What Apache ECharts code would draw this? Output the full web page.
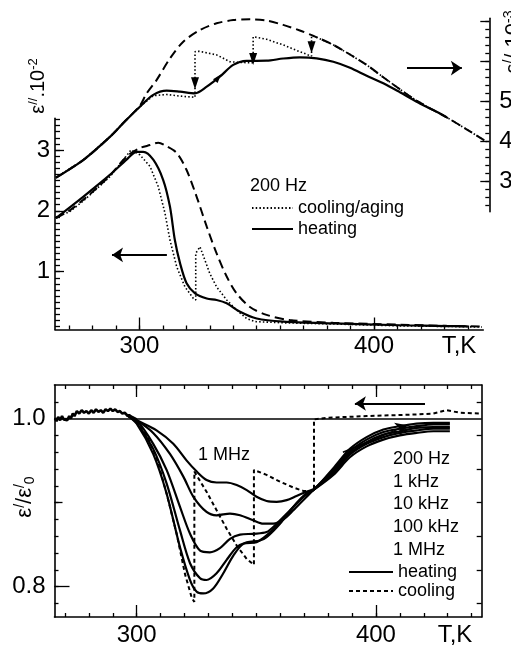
<!DOCTYPE html>
<html><head><meta charset="utf-8">
<script src="https://cdn.jsdelivr.net/npm/echarts@6/dist/echarts.min.js"></script>
<style>html,body{margin:0;padding:0;background:#fff;overflow:hidden}#c{width:511px;height:647px}</style>
</head><body><div id="c"></div>
<script>
// ---------- DATA ----------
// Top panel, epsilon' (right axis, x 10^-3), [T(K), value]
const epsP_heating = [[264.4,3.10],[276,3.54],[287.4,4.12],[294,4.52],[300.2,4.875],[305.9,5.17],[311.6,5.275],[317.3,5.25],[323.7,5.21],[328.7,5.375],[334.3,5.625],[340,5.92],[345.7,6.02],[354.2,6.025],[361.3,6.08],[368.4,6.11],[375.6,6.085],[382.7,6.0],[389.8,5.85],[396.9,5.65],[404.0,5.46],[411.1,5.235],[418.2,5.0],[425.3,4.79],[431.0,4.61]];
const epsP_cooling = [[264.4,3.10],[276,3.54],[287.4,4.12],[294,4.52],[300.2,4.875],[305.9,5.15],[311.6,5.18],[317.3,5.14],[323.7,5.11],[323.7,6.25],[325.5,6.26],[332.9,6.17],[338.6,6.0],[343,5.98],[348.5,5.975],[348.5,6.625],[354.2,6.56],[361.3,6.42],[368.4,6.25],[372.0,6.17],[373.4,6.14],[373.4,6.65],[375.6,6.61],[382.7,6.42],[389.8,6.18],[396.9,5.92],[404.0,5.61],[411.1,5.31],[418.2,5.025],[425.3,4.79],[431.0,4.61],[439.5,4.31],[448.0,4.0]];
const epsP_ref = [[264.4,3.10],[276,3.54],[287.4,4.12],[294,4.52],[300.2,4.9],[303,5.2],[307.3,5.54],[313,6.08],[318.7,6.5],[325.8,6.79],[332.9,6.96],[340,7.04],[347.1,7.06],[354.2,7.03],[361.3,6.92],[368.4,6.78],[375.6,6.61],[382.7,6.42],[389.8,6.18],[396.9,5.92],[404.0,5.61],[411.1,5.31],[418.2,5.025],[425.3,4.79],[431.0,4.61],[439.5,4.31],[448.0,4.0]];
// Top panel, epsilon'' (left axis, x 10^-2)
const epsPP_heating = [[264.4,1.88],[276,2.23],[287.4,2.59],[294.5,2.84],[298.8,2.97],[301.6,2.97],[305.9,2.84],[310.1,2.51],[313,2.07],[315.1,1.52],[317.3,1.14],[320.1,0.81],[323.7,0.645],[328.7,0.56],[332.9,0.535],[337.2,0.48],[342.9,0.34],[350,0.23],[361.3,0.18],[382.6,0.15],[411.1,0.12],[431,0.107],[440,0.10]];
const epsPP_cooling = [[264.4,1.90],[270,1.98],[276,2.16],[282,2.37],[287.4,2.56],[292,2.78],[296.4,3.0],[300.2,2.92],[304.5,2.73],[308,2.40],[310.9,1.96],[313,1.52],[315.9,1.08],[319.4,0.75],[323,0.56],[324,0.535],[324,1.30],[325.8,1.41],[327.9,1.19],[330,0.97],[332.9,0.75],[337.2,0.535],[341.4,0.37],[345.7,0.23],[349.2,0.18],[361.3,0.16],[382.6,0.14],[411.1,0.11],[431,0.10],[446,0.09]];
const epsPP_ref = [[264.4,1.88],[270,2.0],[276,2.18],[282,2.38],[287.4,2.58],[294.5,2.89],[300.2,3.03],[304.5,3.08],[308,3.12],[311.6,3.06],[315.9,2.95],[320.1,2.67],[324.4,2.23],[328.7,1.74],[332.9,1.30],[337.2,0.92],[341.4,0.645],[347.1,0.42],[354.2,0.29],[364.2,0.205],[382.6,0.16],[411.1,0.13],[431,0.11],[446,0.10]];
// Bottom panel, epsilon'/epsilon'0
const rel_noise = [[265.8,1.000],[266.5,0.997],[267.2,1.002],[268,0.998],[268.8,1.003],[269.5,0.999],[270.3,1.001],[271,0.998],[271.8,1.003],[272.5,1.000],[273.3,1.006],[274,1.003],[275,1.009],[276,1.006],[277,1.010],[278,1.007],[279,1.009],[280,1.006],[281,1.010],[282,1.007],[283,1.011],[284,1.008],[285,1.010],[286,1.007],[287,1.011],[288,1.009],[289,1.012],[290,1.009],[291,1.011],[292,1.008],[293,1.009],[294,1.006],[295,1.007],[296,1.004],[297,1.004],[298,1.002],[300,0.999]];
const rel_1MHz = [[296,1.004],[300,0.998],[308.3,0.986],[315.3,0.970],[320.9,0.950],[325.1,0.937],[329.2,0.927],[333.4,0.924],[337.6,0.924],[341.8,0.921],[346.0,0.915],[350.1,0.907],[354.3,0.902],[358.5,0.901],[362.7,0.903],[366.8,0.908],[371.0,0.913],[374.5,0.917],[382.2,0.941],[389.1,0.964],[396.1,0.978],[403.1,0.987],[410.0,0.991],[417.0,0.994],[424.0,0.995],[430.9,0.995]];
const rel_100kHz = [[296,1.004],[300,0.998],[306.9,0.983],[313.9,0.958],[319.5,0.931],[323.7,0.907],[329.2,0.889],[333.4,0.885],[339.0,0.887],[343.2,0.885],[348.7,0.879],[352.9,0.875],[357.1,0.875],[361.3,0.880],[365.5,0.891],[369.6,0.903],[373.8,0.915],[382.2,0.939],[389.1,0.961],[396.1,0.975],[403.1,0.984],[410.0,0.988],[417.0,0.991],[424.0,0.993],[430.9,0.993]];
const rel_10kHz = [[296,1.004],[300,0.998],[306.9,0.970],[312.5,0.939],[318.1,0.895],[322.3,0.863],[326.5,0.843],[330.6,0.841],[334.8,0.846],[339.0,0.857],[343.2,0.862],[348.7,0.863],[354.3,0.865],[358.5,0.875],[364.1,0.891],[369.6,0.907],[373.8,0.915],[382.2,0.937],[389.1,0.959],[396.1,0.972],[403.1,0.981],[410.0,0.985],[417.0,0.989],[424.0,0.990],[430.9,0.990]];
const rel_1kHz = [[296,1.004],[300,0.995],[306.9,0.964],[312.5,0.923],[318.1,0.867],[322.3,0.828],[326.5,0.810],[329.2,0.808],[333.4,0.816],[337.6,0.832],[341.8,0.847],[346.0,0.853],[351.5,0.855],[354.3,0.859],[359.9,0.875],[365.5,0.895],[371.0,0.911],[373.8,0.915],[382.2,0.935],[389.1,0.957],[396.1,0.970],[403.1,0.978],[410.0,0.983],[417.0,0.986],[424.0,0.988],[430.9,0.988]];
const rel_200Hz = [[296,1.004],[300,0.994],[306.9,0.958],[312.5,0.911],[318.1,0.847],[322.3,0.808],[325.1,0.794],[327.8,0.792],[332.0,0.798],[336.2,0.816],[340.4,0.837],[344.6,0.851],[350.1,0.853],[354.3,0.861],[359.9,0.876],[365.5,0.895],[371.0,0.911],[373.8,0.915],[382.2,0.933],[389.1,0.954],[396.1,0.967],[403.1,0.975],[410.0,0.980],[417.0,0.983],[424.0,0.985],[430.9,0.985]];
const rel_cooling = [[300,0.998],[304.2,0.980],[308.3,0.954],[312.5,0.911],[316.7,0.863],[320.2,0.815],[323.0,0.787],[324.1,0.782],[324.1,0.937],[329.2,0.913],[333.4,0.891],[337.6,0.869],[341.8,0.849],[346.0,0.833],[349.0,0.826],[349.0,0.939],[354.3,0.933],[359.9,0.925],[365.5,0.918],[369.6,0.914],[374.1,0.914],[374.1,0.999],[379.4,1.001],[396.1,1.003],[417.0,1.005],[424.0,1.006],[429.5,1.010],[435.1,1.007],[444.2,1.006]];
// Ticks / labels
const tickT = [270,280,290,300,310,320,330,340,350,360,370,380,390,400,410,420,430,440];
const majorT = [300,400];
const tickEps2 = [0.1,0.2,0.3,0.4,0.5,0.6,0.7,0.8,0.9,1.0,1.1,1.2,1.3,1.4,1.5,1.6,1.7,1.8,1.9,2.0,2.1,2.2,2.3,2.4,2.5,2.6,2.7,2.8,2.9,3.0,3.1,3.2,3.3,3.4,3.5];
const majorEps2 = [1,2,3];
const tickEps1 = [2.4,2.6,2.8,3.0,3.2,3.4,3.6,3.8,4.0,4.2,4.4,4.6,4.8,5.0,5.2,5.4,5.6,5.8,6.0,6.2,6.4,6.6,6.8,7.0];
const majorEps1 = [3,4,5,6,7];
const labelEps1 = [3,4,5];
const tickRel = [0.78,0.80,0.82,0.84,0.86,0.88,0.90,0.92,0.94,0.96,0.98,1.00,1.02];
const majorRel = [0.8,1.0];
const midRel = [0.9];
const tickRelRight = [0.78,0.82,0.86,0.90,0.94,0.98,1.02];
const freqLabels = ['200 Hz','1 kHz','10 kHz','100 kHz','1 MHz'];

// ---------- CHART ----------
const fam = 'Liberation Sans, Arial, Helvetica, sans-serif';
const chart = echarts.init(document.getElementById('c'), null, {renderer:'canvas'});

function ax(o){
  return {
    type:'value', gridIndex:o.g, position:o.pos, min:o.min, max:o.max, show: o.show!==false,
    axisLine:{show:!!o.line, onZero:false, lineStyle:{color:'#000', width:1.6}},
    axisTick:{show:!!o.ticks, inside:true, length:o.len||4, customValues:o.ticks||[], lineStyle:{color:'#000', width:1.3}},
    axisLabel:{show:!!o.labels, customValues:o.labels||[], fontSize:24, color:'#000', fontFamily:fam, margin:o.margin||6, formatter:o.fmt},
    splitLine:{show:false}, minorTick:{show:false}
  };
}
function line(name, data, xi, yi, w, type, smooth, extra){
  return Object.assign({type:'line', name, data, xAxisIndex:xi, yAxisIndex:yi, symbol:'none', showSymbol:false,
    smooth:smooth, silent:true, animation:false,
    lineStyle:{color:'#000', width:w, type:type}, itemStyle:{color:'#000'}}, extra||{});
}
const arrowML = (pairs, curve) => ({silent:true, symbol:['none','arrow'], symbolSize:11, label:{show:false},
  lineStyle:{color:'#000', width:2, type:'solid', curveness:curve||0},
  data: pairs.map(p => [{coord:p[0]},{coord:p[1]}])});

const legendBase = {orient:'vertical', itemHeight:18, padding:0, selectedMode:false,
  itemStyle:{opacity:0, borderWidth:0}, textStyle:{fontSize:18, color:'#000', fontFamily:fam, lineHeight:18}};

const option = {
  backgroundColor:'#fff', animation:false,
  grid:[
    {left:55, top:118.3, width:428.3, height:211.2, outerBoundsMode:'none', containLabel:false},
    {left:55, top:18.3, width:434.3, height:193.4, outerBoundsMode:'none', containLabel:false},
    {left:54.5, top:385, width:427.2, height:232, outerBoundsMode:'none', containLabel:false}
  ],
  xAxis:[
    ax({g:0,pos:'bottom',min:264,max:446.6,line:true,ticks:tickT,len:4,labels:majorT,margin:5}),
    ax({g:0,pos:'bottom',min:264,max:446.6,ticks:majorT,len:12}),
    ax({g:1,pos:'bottom',min:264,max:449.2,show:false}),
    ax({g:2,pos:'bottom',min:265.65,max:444.2,line:true,ticks:tickT,len:4,labels:majorT,margin:6}),
    ax({g:2,pos:'bottom',min:265.65,max:444.2,ticks:majorT,len:12}),
    ax({g:2,pos:'top',min:265.65,max:444.2,line:true,ticks:tickT,len:4}),
    ax({g:2,pos:'top',min:265.65,max:444.2,ticks:majorT,len:12})
  ],
  yAxis:[
    ax({g:0,pos:'left',min:0.05,max:3.52,line:true,ticks:tickEps2,len:5,labels:majorEps2,margin:5}),
    ax({g:0,pos:'left',min:0.05,max:3.52,ticks:majorEps2,len:9}),
    ax({g:1,pos:'right',min:2.25,max:7.085,line:true,ticks:tickEps1,len:4,labels:labelEps1,margin:10}),
    ax({g:1,pos:'right',min:2.25,max:7.085,ticks:majorEps1,len:9}),
    ax({g:2,pos:'left',min:0.764,max:1.04,line:true,ticks:tickRel,len:4,labels:majorRel,margin:9,fmt:v=>Number(v).toFixed(1)}),
    ax({g:2,pos:'left',min:0.764,max:1.04,ticks:majorRel,len:15}),
    ax({g:2,pos:'left',min:0.764,max:1.04,ticks:midRel,len:8}),
    ax({g:2,pos:'right',min:0.764,max:1.04,line:true,ticks:tickRelRight,len:5})
  ],
  legend:[
    Object.assign({}, legendBase, {data:['cooling/aging','heating'], left:251, top:199, itemWidth:41, itemGap:3}),
    Object.assign({}, legendBase, {data:['heating','cooling'], left:348, top:563, itemWidth:44, itemGap:1})
  ],
  series:[
    // top: epsilon'
    line('reference', epsP_ref, 2, 2, 2, [9,5], 0.3, {markLine: arrowML([[[414.1,5.84],[437.5,5.84]]])}),
    line('heating', epsP_heating, 2, 2, 2.2, 'solid', 0.3, {markPoint:{silent:true, symbol:'triangle', symbolSize:[6,9], symbolRotate:-40, itemStyle:{color:'#000'}, label:{show:false}, data:[{coord:[333.6,5.6]}]}}),
    line('cooling/aging', epsP_cooling, 2, 2, 1.6, [1.5,2.2], false, {markPoint:{silent:true, symbol:'triangle', symbolSize:[8,12], symbolRotate:180, itemStyle:{color:'#000'}, label:{show:false},
      data:[{coord:[323.7,5.46]},{coord:[348.5,6.07]},{coord:[373.4,6.36]}]}}),
    // top: epsilon''
    line('reference', epsPP_ref, 0, 0, 2, [9,5], 0.3, {markLine: arrowML([[[311.7,1.275],[288.3,1.275]]])}),
    line('heating', epsPP_heating, 0, 0, 2.2, 'solid', 0.3),
    line('cooling/aging', epsPP_cooling, 0, 0, 1.6, [1.5,2.2], false),
    // bottom
    line('noise', rel_noise, 3, 4, 2.6, 'solid', false, {markLine:{silent:true, symbol:'none', label:{show:false}, lineStyle:{color:'#000', width:1.6, type:'solid'}, data:[{yAxis:1.0}]}}),
    line('200 Hz', rel_200Hz, 3, 4, 2.2, 'solid', 0.3),
    line('1 kHz', rel_1kHz, 3, 4, 2.2, 'solid', 0.3),
    line('10 kHz', rel_10kHz, 3, 4, 2.2, 'solid', 0.3),
    line('100 kHz', rel_100kHz, 3, 4, 2.2, 'solid', 0.3),
    line('1 MHz', rel_1MHz, 3, 4, 2.2, 'solid', 0.3),
    line('cooling', rel_cooling, 3, 4, 2, [4,3], false, {markLine: arrowML([[[420.5,1.018],[391.2,1.018]]])}),
    line('direction', [], 3, 4, 1.5, 'solid', false, {markLine: Object.assign(arrowML([[[386.2,0.960],[413.0,0.992]]], 0.25), {lineStyle:{color:'#000', width:1.5, type:'solid', curveness:0.25}})})
  ],
  graphic:[
    {type:'text', x:250, y:186, style:{text:'200 Hz', fontSize:18, fontFamily:fam, fill:'#000', align:'left', verticalAlign:'middle'}},
    {type:'text', x:459, y:346, style:{text:'T,K', fontSize:24, fontFamily:fam, fill:'#000', align:'center', verticalAlign:'middle'}},
    {type:'text', x:455, y:635, style:{text:'T,K', fontSize:24, fontFamily:fam, fill:'#000', align:'center', verticalAlign:'middle'}},
    {type:'text', x:198, y:455, style:{text:'1 MHz', fontSize:18, fontFamily:fam, fill:'#000', align:'left', verticalAlign:'middle'}},
    ...freqLabels.map((t,i)=>({type:'text', x:393, y:[459,482,504,527,550][i], style:{text:t, fontSize:18, fontFamily:fam, fill:'#000', align:'left', verticalAlign:'middle'}})),
    {type:'text', x:38, y:86, rotation:Math.PI/2, style:{text:'{m|ε}{s|//}{m|.10}{s|-2}', align:'center', verticalAlign:'middle', fill:'#000',
      rich:{m:{fontSize:20, fontFamily:fam, fill:'#000', lineHeight:22}, s:{fontSize:13, fontFamily:fam, fill:'#000', verticalAlign:'top'}}}},
    {type:'text', x:25, y:497, rotation:Math.PI/2, style:{text:'{m|ε}{s|/}{m|/ε}{s|/}{b|0}', align:'center', verticalAlign:'middle', fill:'#000',
      rich:{m:{fontSize:22, fontFamily:fam, fill:'#000', lineHeight:24}, s:{fontSize:14, fontFamily:fam, fill:'#000', verticalAlign:'top'}, b:{fontSize:14, fontFamily:fam, fill:'#000', verticalAlign:'bottom'}}}},
    {type:'text', x:514, y:42, rotation:Math.PI/2, style:{text:'{m|ε}{s|/}{m|/ 10}{s|-3}', align:'center', verticalAlign:'middle', fill:'#000',
      rich:{m:{fontSize:22, fontFamily:fam, fill:'#000', lineHeight:24}, s:{fontSize:14, fontFamily:fam, fill:'#000', verticalAlign:'top'}}}}
  ]
};
chart.setOption(option);
</script></body></html>
